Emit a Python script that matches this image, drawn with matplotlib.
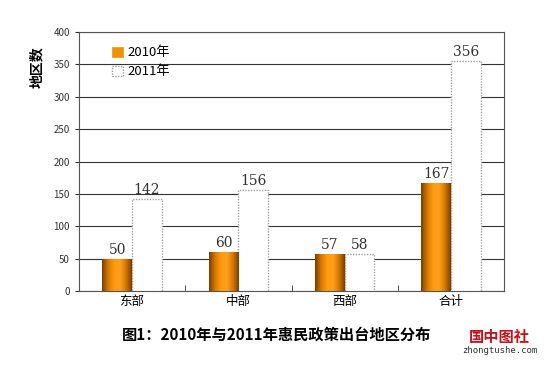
import matplotlib.pyplot as plt
import numpy as np
from matplotlib.colors import LinearSegmentedColormap

plt.rcParams['font.family'] = ['Noto Sans CJK SC', 'DejaVu Sans']

categories = ['东部', '中部', '西部', '合计']
v2010 = [50, 60, 57, 167]
v2011 = [142, 156, 58, 356]
series_names = ['2010年', '2011年']

fig = plt.figure(figsize=(5.48, 3.68), dpi=100)
ax = fig.add_axes([0.144, 0.209, 0.776, 0.704])

x = np.arange(len(categories))
w = 0.28
b1 = ax.bar(x - w / 2, v2010, w, color='#f39200', edgecolor='#e8a030',
            linewidth=0.6, zorder=3, label=series_names[0])
b2 = ax.bar(x + w / 2, v2011, w, color='white', edgecolor='#a0a0a0',
            linewidth=1.0, linestyle=(0, (1, 1)), zorder=3, label=series_names[1])

# cylinder-like shading on the orange bars
cmap = LinearSegmentedColormap.from_list('cyl', ['#7a3f00', '#d57a00', '#ff9a10',
                                                  '#ffa020', '#d57a00', '#7a3f00'])
grad = np.linspace(0, 1, 64).reshape(1, -1)
for p in b1:
    x0, y0 = p.get_x(), p.get_y()
    im = ax.imshow(grad, cmap=cmap, aspect='auto', zorder=3.5,
                   extent=[x0, x0 + p.get_width(), y0, y0 + p.get_height()])
    im.set_clip_path(p)

for bars, vals in ((b1, v2010), (b2, v2011)):
    for p, v in zip(bars, vals):
        ax.text(p.get_x() + p.get_width() / 2, v + 3, str(v), ha='center',
                va='bottom', fontsize=10, family='DejaVu Serif',
                color='#333333', zorder=5)

ax.set_xlim(-0.5, len(categories) - 0.5)
ax.set_ylim(0, 400)
ax.set_yticks(np.arange(0, 401, 50))
ax.yaxis.grid(True, color='#333333', linewidth=0.8, zorder=0)
ax.set_axisbelow(True)
ax.set_xticks(x)
ax.set_xticklabels(categories, fontsize=9)
ax.tick_params(axis='x', length=0, pad=3)
ax.set_xticks(np.arange(0.5, len(categories) - 0.5, 1), minor=True)
ax.tick_params(axis='x', which='minor', direction='in', length=4, color='#333333')
ax.tick_params(axis='y', labelsize=7, length=3, color='#333333', labelcolor='#333333')
for s in ax.spines.values():
    s.set_color('#555555')
    s.set_linewidth(0.8)

ax.set_ylabel('地区数', fontsize=10, fontweight='bold')
ax.yaxis.set_label_coords(-0.083, 0.865)

leg = ax.legend(loc='upper left', bbox_to_anchor=(0.05, 0.99), frameon=False,
                fontsize=9.5, handlelength=0.8, handleheight=0.8, handletextpad=0.4,
                labelspacing=0.45)

fig.text(0.505, 0.09, '图1：2010年与2011年惠民政策出台地区分布', ha='center',
         va='center', fontsize=11, fontweight='bold')
fig.text(0.912, 0.084, '国中图社', ha='center', va='center', fontsize=11,
         fontweight='bold', color='#c0141c')
fig.text(0.912, 0.047, 'zhongtushe.com', ha='center', va='center', fontsize=6.5,
         family='DejaVu Sans Mono', color='#333333')

fig.savefig('out.png', dpi=100)
